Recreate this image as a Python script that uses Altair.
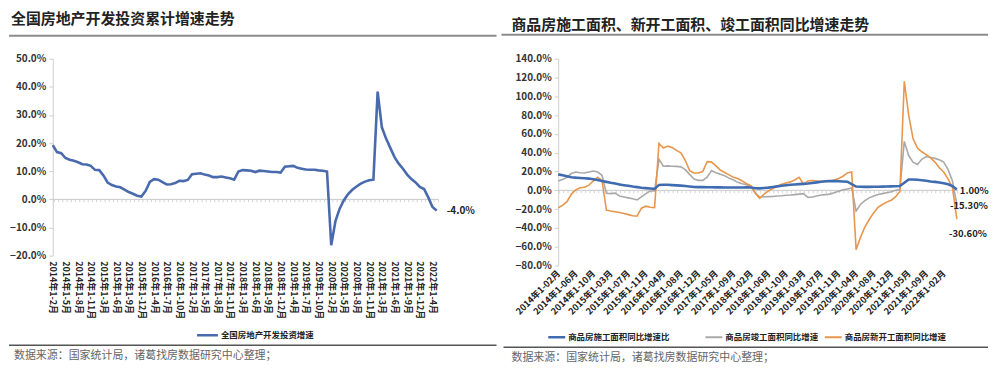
import altair as alt
import pandas as pd

FONT = "Noto Sans CJK SC"

left_title = "全国房地产开发投资累计增速走势"
right_title = "商品房施工面积、新开工面积、竣工面积同比增速走势"
source_text = "数据来源：国家统计局，诸葛找房数据研究中心整理；"
left_legend = "全国房地产开发投资增速"

# cumulative YoY growth of real-estate development investment (%), 2014 1-2 ... 2022 1-5
invest = [19.3, 16.8, 16.4, 14.7, 14.1, 13.7, 13.2, 12.5, 12.4, 11.9, 10.5,
          10.4, 8.5, 6.0, 5.1, 4.6, 4.3, 3.5, 2.6, 2.0, 1.3, 1.0,
          3.0, 6.2, 7.2, 7.0, 6.1, 5.3, 5.4, 5.8, 6.6, 6.5, 6.9,
          8.9, 9.1, 9.3, 8.8, 8.5, 7.9, 7.9, 8.1, 7.8, 7.5, 7.0,
          9.9, 10.4, 10.3, 10.2, 9.7, 10.2, 10.1, 9.9, 9.7, 9.7, 9.5,
          11.6, 11.8, 11.9, 11.2, 10.9, 10.6, 10.5, 10.5, 10.3, 10.2, 9.9,
          -16.3, -7.7, -3.3, -0.3, 1.9, 3.4, 4.6, 5.6, 6.3, 6.8, 7.0,
          38.3, 25.6, 21.6, 18.3, 15.0, 12.7, 10.9, 8.8, 7.2, 6.0, 4.4,
          3.7, 0.7, -2.7, -4.0]
left_ticks = ["2014年1-2月", "2014年1-5月", "2014年1-8月", "2014年1-11月",
              "2015年1-3月", "2015年1-6月", "2015年1-9月", "2015年1-12月",
              "2016年1-4月", "2016年1-7月", "2016年1-10月",
              "2017年1-2月", "2017年1-5月", "2017年1-8月", "2017年1-11月",
              "2018年1-3月", "2018年1-6月", "2018年1-9月", "2018年1-12月",
              "2019年1-4月", "2019年1-7月", "2019年1-10月",
              "2020年1-2月", "2020年1-5月", "2020年1-8月", "2020年1-11月",
              "2021年1-3月", "2021年1-6月", "2021年1-9月", "2021年1-12月",
              "2022年1-4月"]
left_end_label = "-4.0%"

right_ticks = ["2014年1-02月", "2014年1-06月", "2014年1-10月", "2015年1-03月", "2015年1-07月",
               "2015年1-11月", "2016年1-04月", "2016年1-08月", "2016年1-12月", "2017年1-05月",
               "2017年1-09月", "2018年1-02月", "2018年1-06月", "2018年1-10月", "2019年1-03月",
               "2019年1-07月", "2019年1-11月", "2020年1-04月", "2020年1-08月", "2020年1-12月",
               "2021年1-05月", "2021年1-09月", "2022年1-02月"]

area_construct = [17.0, 16.0, 15.0, 14.0, 13.5, 13.2, 12.8, 12.5, 11.8, 11.0,
                  10.0, 9.0, 8.0, 7.2, 6.3, 5.5, 4.8, 4.0, 3.4, 2.8,
                  2.4, 2.0, 1.6, 5.8, 6.0, 5.9, 5.6, 5.3, 5.0, 4.6,
                  4.0, 3.5, 3.4, 3.4, 3.3, 3.3, 3.2, 3.2, 3.1, 3.1,
                  3.1, 3.0, 3.0, 3.2, 3.0, 2.2, 2.1, 2.5, 2.9, 3.5,
                  4.2, 4.8, 5.4, 5.9, 6.3, 6.6, 6.9, 7.2, 7.8, 8.5,
                  9.2, 9.7, 9.9, 9.8, 9.6, 9.4, 9.2, 6.5, 4.0, 3.8,
                  3.7, 3.7, 3.8, 3.9, 4.0, 4.1, 4.2, 4.4, 4.6, 8.0,
                  11.6, 11.5, 11.2, 10.8, 10.3, 9.5, 9.0, 8.4, 7.6, 6.5,
                  4.5, 1.0]
area_complete = [9.9, 11.5, 13.8, 18.0, 19.5, 18.7, 18.5, 19.5, 20.5, 19.5,
                 16.0, -3.0, -3.5, -3.0, -6.0, -7.0, -8.0, -9.0, -10.2, -7.0,
                 -3.5, -0.7, -0.7, 33.0, 25.7, 26.0, 25.7, 25.5, 25.0, 22.0,
                 17.0, 12.0, 10.6, 10.6, 14.0, 21.0, 18.7, 17.0, 15.5, 13.0,
                 11.0, 8.5, 7.0, 6.0, 4.0, -3.0, -7.0, -6.8, -6.7, -6.5,
                 -6.0, -5.8, -5.2, -5.0, -4.5, -4.0, -3.5, -7.5, -7.0, -6.0,
                 -5.0, -4.5, -4.0, -2.5, -1.0, 0.5, 1.5, 2.5, -22.0, -15.0,
                 -11.0, -8.0, -6.0, -4.5, -3.5, -2.5, -1.5, 0.0, 1.0, 52.0,
                 37.0, 30.0, 27.5, 33.0, 36.0, 35.0, 34.0, 32.5, 30.0, 22.0,
                 10.0, -15.3]
area_newstart = [-18.5, -16.0, -12.0, -4.0, 0.5, 2.8, 3.3, 5.5, 9.9, 13.8,
                 10.5, -21.0, -22.0, -22.8, -23.6, -24.5, -25.8, -27.0, -27.5, -19.0,
                 -16.8, -18.0, -18.3, 50.0, 45.0, 47.0, 45.5, 42.5, 40.0, 32.0,
                 21.0, 18.5, 18.5, 20.0, 30.5, 30.0, 26.0, 21.5, 19.0, 16.5,
                 13.8, 12.5, 10.0, 7.0, 5.0, -3.0, -8.5, -4.0, -0.5, 2.0,
                 4.5, 6.5, 7.8, 9.0, 11.0, 13.8, 6.5, 10.0, 10.5, 10.0,
                 9.5, 9.2, 10.0, 11.0, 12.5, 15.0, 18.5, 19.5, -63.0, -50.0,
                 -39.0, -31.0, -24.0, -18.0, -15.0, -12.5, -10.5, -7.0, -1.0, 116.0,
                 80.0, 55.0, 45.0, 41.0, 38.0, 34.5, 30.0, 24.0, 19.5, 12.0,
                 3.0, -30.6]

series_names = ["商品房施工面积同比增速比", "商品房竣工面积同比增速", "商品房新开工面积同比增速"]
series_colors = ["#3f6cb0", "#a9a9a9", "#e8964c"]
series_widths = [2.6, 1.6, 1.6]
end_labels = ["1.00%", "-15.30%", "-30.60%"]

one = pd.DataFrame({"k": [0]})


def text_at(x, y, txt, size, weight="normal", color="#222", align="left"):
    return alt.Chart(one).mark_text(
        text=txt, align=align, baseline="middle", font=FONT, fontSize=size,
        fontWeight=weight, color=color
    ).encode(x=alt.value(x), y=alt.value(y))


def hrule(x1, x2, y, color, w):
    return alt.Chart(one).mark_rule(color=color, strokeWidth=w).encode(
        x=alt.value(x1), x2=alt.value(x2), y=alt.value(y))


def frame(x1, x2, y1, y2):
    return alt.Chart(one).mark_rect(opacity=0).encode(
        x=alt.value(x1), x2=alt.value(x2), y=alt.value(y1), y2=alt.value(y2))


def pct_axis(vals, pad=3):
    return alt.Axis(values=vals, tickCount=len(vals),
                    labelExpr="format(datum.value, '.1f') + '%'", grid=False,
                    domainColor="#cfcfcf", tickColor="#cfcfcf", tickSize=4,
                    labelFont=FONT, labelFontSize=10, labelFontWeight="bold",
                    labelColor="#333", labelPadding=pad, labelOverlap=False, title=None)


# ---------------- left panel ----------------
LW, LH = 388, 198
df_left = pd.DataFrame({"i": list(range(len(invest))), "v": invest})
left_expr = "[" + ",".join("'%s'" % t for t in left_ticks) + "][round(datum.value/3)]"
left_vals = list(range(0, 3 * len(left_ticks), 3))
xL = alt.X("i:Q", scale=alt.Scale(domain=[0, 91.5], nice=False, zero=False),
           axis=alt.Axis(values=left_vals, tickCount=len(left_vals), labelExpr=left_expr,
                         labelAngle=90, labelAlign="left", labelBaseline="middle",
                         domain=False, ticks=False, grid=False, labelPadding=5,
                         labelFont=FONT, labelFontSize=9, labelFontWeight="bold",
                         labelColor="#222", labelOverlap=False, labelFlush=False, title=None))
yL = alt.Y("v:Q", scale=alt.Scale(domain=[-20, 50], nice=False),
           axis=pct_axis([-20, -10, 0, 10, 20, 30, 40, 50]))

zero_df = pd.DataFrame({"y": [0]})
left_zero = alt.Chart(zero_df).mark_rule(color="#c8c8c8", strokeWidth=1).encode(y="y:Q")
left_zero_ticks = alt.Chart(zero_df).mark_rule(
    color="#d4d4d4", strokeWidth=3, strokeDash=[1, 3.24], yOffset=1.5).encode(y="y:Q")
left_line = alt.Chart(df_left).mark_line(color="#4a6aae", strokeWidth=2.6).encode(x=xL, y=yL)
left_end = alt.Chart(df_left.tail(1).assign(t=left_end_label)).mark_text(
    align="left", baseline="middle", dx=10, font=FONT, fontSize=10, fontWeight="bold",
    color="#222").encode(x="i:Q", y="v:Q", text="t:N")

left = alt.layer(
    frame(-44, 450, -50, 310),
    left_zero, left_zero_ticks, left_line, left_end,
    text_at(-42, -40, left_title, 15, "bold", "#222"),
    hrule(-44, 446, -23, "#8c8c8c", 2),
    hrule(145, 166, 278, "#4a6aae", 2.5),
    text_at(169, 278, left_legend, 8.5, "bold", "#222"),
    hrule(-44, 446, 288, "#555", 1.5),
    text_at(-39, 299, source_text, 11, "normal", "#666"),
).properties(width=LW, height=LH)

# ---------------- right panel ----------------
RW, RH = 402, 208
right_expr = "[" + ",".join("'%s'" % t for t in right_ticks) + "][round(datum.value/4)]"
right_vals = list(range(0, 4 * len(right_ticks), 4))
xR = alt.X("i:Q", scale=alt.Scale(domain=[0, 91.3], nice=False, zero=False),
           axis=alt.Axis(values=right_vals, tickCount=len(right_vals), labelExpr=right_expr,
                         labelAngle=315, labelAlign="right", labelBaseline="middle",
                         domain=False, ticks=False, grid=False, labelPadding=6,
                         labelFont=FONT, labelFontSize=9, labelFontWeight="bold",
                         labelColor="#222", labelOverlap=False, labelFlush=False, title=None))
yR = alt.Y("v:Q", scale=alt.Scale(domain=[-80, 140], nice=False),
           axis=pct_axis(list(range(-80, 141, 20))))

right_series = [area_construct, area_complete, area_newstart]
right_layers = [frame(-58, 436, -49, 311)]
right_layers.append(alt.Chart(zero_df).mark_rule(color="#c8c8c8", strokeWidth=1).encode(y="y:Q"))
right_layers.append(alt.Chart(zero_df).mark_rule(
    color="#d4d4d4", strokeWidth=3, strokeDash=[1, 3.4], yOffset=1.5).encode(y="y:Q"))
for k in [1, 2, 0]:
    dfk = pd.DataFrame({"i": list(range(len(right_series[k]))), "v": right_series[k]})
    right_layers.append(alt.Chart(dfk).mark_line(
        color=series_colors[k], strokeWidth=series_widths[k]).encode(x=xR, y=yR))

label_offsets = [(3, 2), (-7, 1.5), (-8, 15)]
for k in range(3):
    vals = right_series[k]
    dfl = pd.DataFrame({"i": [len(vals) - 1], "v": [vals[-1]], "t": [end_labels[k]]})
    right_layers.append(alt.Chart(dfl).mark_text(
        align="left", baseline="middle", dx=label_offsets[k][0], dy=label_offsets[k][1],
        font=FONT, fontSize=9.5, fontWeight="bold", color="#222"
    ).encode(x="i:Q", y="v:Q", text="t:N"))

right_layers += [
    text_at(-47, -33.7, right_title, 15, "bold", "#222"),
    hrule(-57, 432, -24, "#8c8c8c", 2),
    hrule(-10, 7, 280, series_colors[0], 2.5),
    text_at(10, 280, series_names[0], 8.5, "bold", "#222"),
    hrule(148, 165, 280, series_colors[1], 2),
    text_at(168, 280, series_names[1], 8.5, "bold", "#222"),
    hrule(268, 285, 280, series_colors[2], 2),
    text_at(288, 280, series_names[2], 8.5, "bold", "#222"),
    hrule(-55, 432, 290, "#555", 1.5),
    text_at(-47, 301, source_text, 11, "normal", "#666"),
]
right = alt.layer(*right_layers).properties(width=RW, height=RH)

chart = alt.hconcat(left, right, spacing=0).properties(
    padding=0, background="white"
).configure_view(stroke=None)

chart.save("out.html", embed_options={"renderer": "svg", "actions": False})
